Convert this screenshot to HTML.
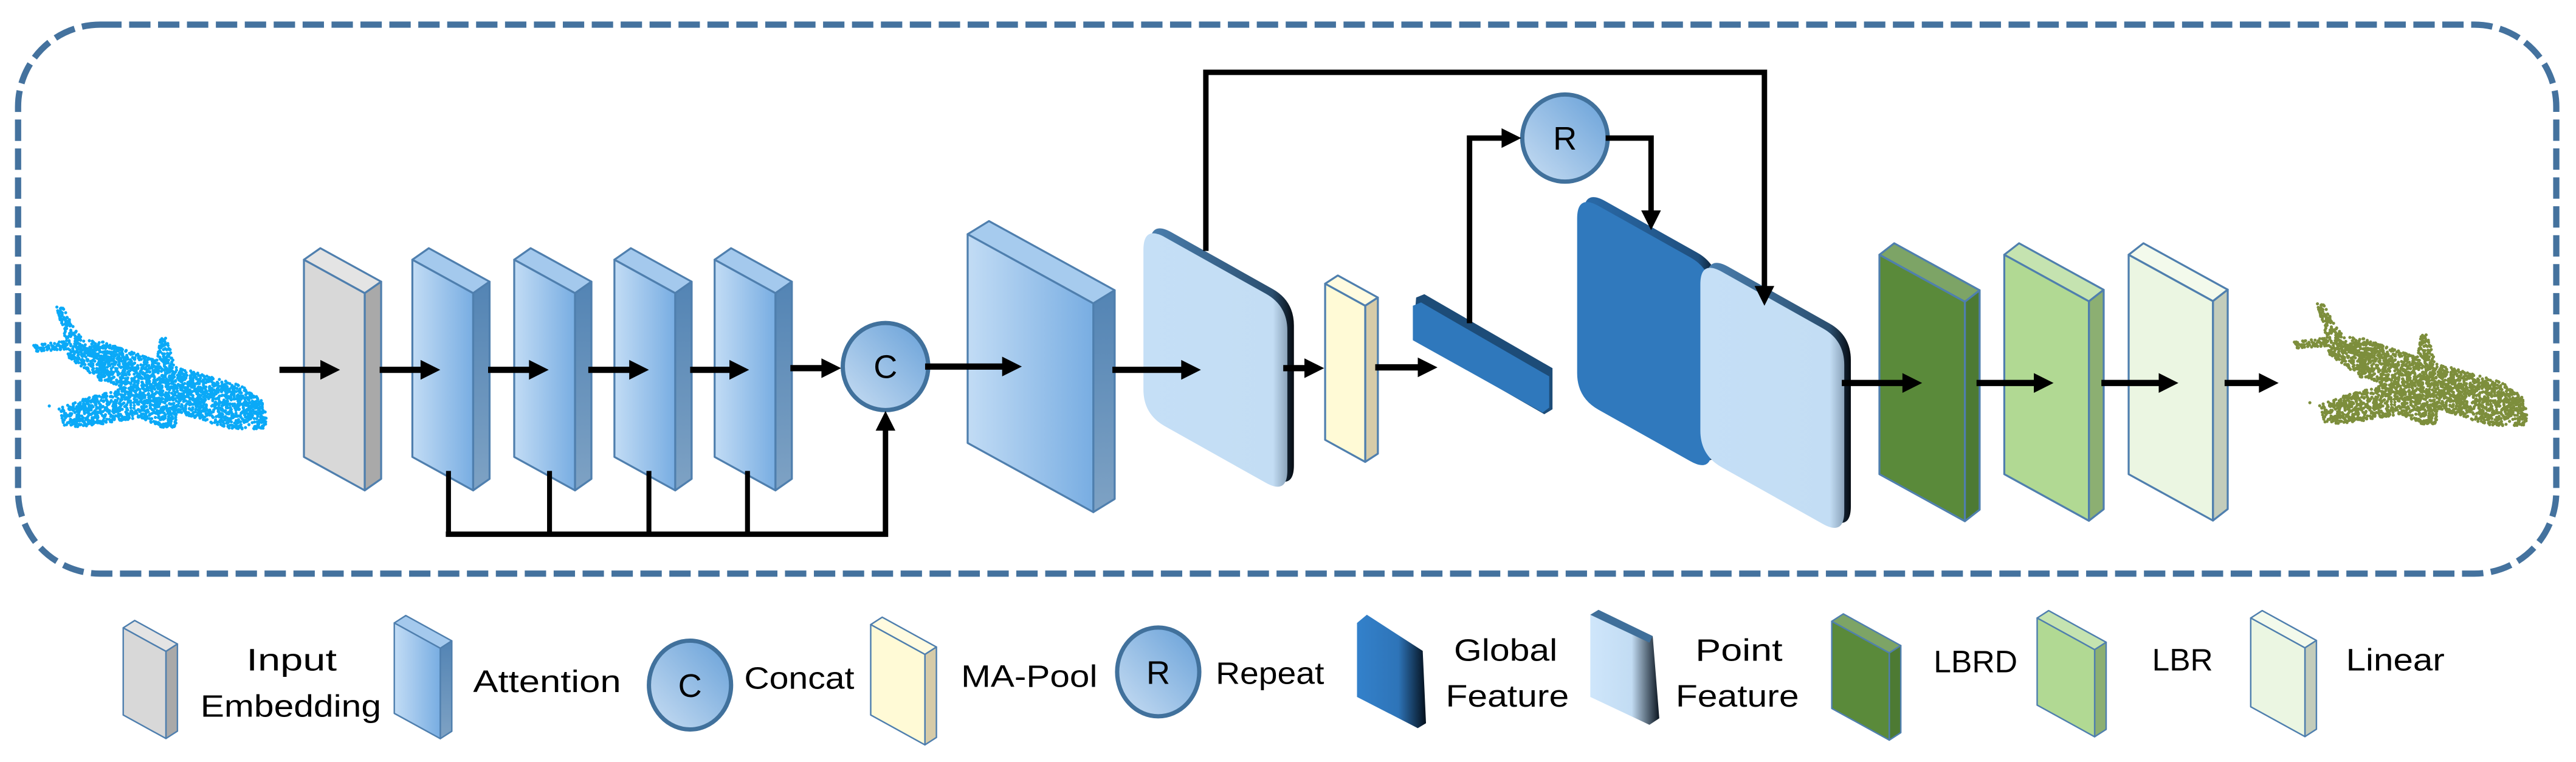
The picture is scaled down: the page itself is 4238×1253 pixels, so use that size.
<!DOCTYPE html>
<html><head><meta charset="utf-8"><style>
html,body{margin:0;padding:0;background:#fff;}
svg{display:block;}
text{font-family:"Liberation Sans",sans-serif;fill:#000;}
</style></head><body>
<svg id="s" xmlns="http://www.w3.org/2000/svg" width="4238" height="1253" viewBox="0 0 1568 463.6" preserveAspectRatio="none">
<defs>
<linearGradient id="gAtt" x1="0" y1="0" x2="1" y2="0"><stop offset="0" stop-color="#c2dcf5"/><stop offset="1" stop-color="#78ade2"/></linearGradient>
<linearGradient id="gAttS" x1="0" y1="0" x2="0" y2="1"><stop offset="0" stop-color="#5384b4"/><stop offset="1" stop-color="#7ea2c4"/></linearGradient>
<linearGradient id="gCirc" x1="0" y1="1" x2="1" y2="0"><stop offset="0" stop-color="#c9def3"/><stop offset="1" stop-color="#67a0d8"/></linearGradient>
<linearGradient id="gPFb" x1="0" y1="0" x2="1" y2="0"><stop offset="0" stop-color="#4a7eae"/><stop offset="0.85" stop-color="#2b4f70"/><stop offset="1" stop-color="#050a10"/></linearGradient>
<linearGradient id="gPF" x1="0" y1="0" x2="1" y2="0"><stop offset="0" stop-color="#c5dff6"/><stop offset="0.9" stop-color="#c3ddf4"/><stop offset="1" stop-color="#8aa3ba"/></linearGradient>
<linearGradient id="gGFb" x1="0" y1="0" x2="1" y2="0"><stop offset="0" stop-color="#2a6aa8"/><stop offset="0.85" stop-color="#1f4f7e"/><stop offset="1" stop-color="#06121e"/></linearGradient>
<linearGradient id="gLGF" x1="0" y1="0" x2="1" y2="0"><stop offset="0" stop-color="#3381cb"/><stop offset="0.6" stop-color="#2e74b8"/><stop offset="1" stop-color="#04101c"/></linearGradient>
<linearGradient id="gLPF" x1="0" y1="0" x2="1" y2="0"><stop offset="0" stop-color="#cfe6fb"/><stop offset="0.6" stop-color="#c2dcf3"/><stop offset="1" stop-color="#0a1520"/></linearGradient>
</defs>
<rect x="11" y="15" width="1545" height="334" rx="50" ry="50" fill="none" stroke="#44729e" stroke-width="3.8" stroke-dasharray="13 4.6"/>
<g id="g"></g>
<text x="539" y="230" font-size="20" text-anchor="middle">C</text>
<text x="952.6" y="91" font-size="20" text-anchor="middle">R</text>
<text x="150" y="408" font-size="19" textLength="55" lengthAdjust="spacingAndGlyphs">Input</text>
<text x="122" y="436" font-size="19" textLength="110" lengthAdjust="spacingAndGlyphs">Embedding</text>
<text x="288" y="421" font-size="19" textLength="90" lengthAdjust="spacingAndGlyphs">Attention</text>
<text x="420" y="424" font-size="20" text-anchor="middle">C</text>
<text x="453" y="419" font-size="19" textLength="67" lengthAdjust="spacingAndGlyphs">Concat</text>
<text x="585" y="418" font-size="19" textLength="83" lengthAdjust="spacingAndGlyphs">MA-Pool</text>
<text x="705" y="416" font-size="20" text-anchor="middle">R</text>
<text x="740" y="416" font-size="19" textLength="66" lengthAdjust="spacingAndGlyphs">Repeat</text>
<text x="885" y="402" font-size="19" textLength="63" lengthAdjust="spacingAndGlyphs">Global</text>
<text x="880" y="430" font-size="19" textLength="75" lengthAdjust="spacingAndGlyphs">Feature</text>
<text x="1032" y="402" font-size="19" textLength="53" lengthAdjust="spacingAndGlyphs">Point</text>
<text x="1020" y="430" font-size="19" textLength="75" lengthAdjust="spacingAndGlyphs">Feature</text>
<text x="1177" y="409" font-size="19" textLength="51" lengthAdjust="spacingAndGlyphs">LBRD</text>
<text x="1310" y="408" font-size="19" textLength="37" lengthAdjust="spacingAndGlyphs">LBR</text>
<text x="1428" y="408" font-size="19" textLength="60" lengthAdjust="spacingAndGlyphs">Linear</text>
</svg>
<script>
var NS="http://www.w3.org/2000/svg",G=document.getElementById("g");
function el(t,a,p){var e=document.createElementNS(NS,t);for(var k in a)e.setAttribute(k,a[k]);(p||G).appendChild(e);return e;}
function poly(pts,a){a.points=pts.map(function(p){return p[0]+","+p[1];}).join(" ");return el("polygon",a);}
var OL="#4f7fae";
function block(x,W,yTL,H,d,dz,cf,ct,cs,sw){
  var s=0.55,TL=[x,yTL],TR=[x+W,yTL+s*W],BR=[x+W,yTL+H+s*W],BL=[x,yTL+H];
  sw=sw||1.2;
  poly([TL,TR,[TR[0]+d,TR[1]-dz],[TL[0]+d,TL[1]-dz]],{fill:ct,stroke:OL,"stroke-width":sw,"stroke-linejoin":"round"});
  poly([TR,[TR[0]+d,TR[1]-dz],[BR[0]+d,BR[1]-dz],BR],{fill:cs,stroke:OL,"stroke-width":sw,"stroke-linejoin":"round"});
  poly([TL,TR,BR,BL],{fill:cf,stroke:OL,"stroke-width":sw,"stroke-linejoin":"round"});
}
function rshape(L,R,tL,bL,s,r,a,dx,dy){
  dx=dx||0;dy=dy||0;
  var P=[[L,tL],[R,tL+s*(R-L)],[R,bL+s*(R-L)],[L,bL]].map(function(p){return [p[0]+dx,p[1]+dy];});
  var d="";
  for(var i=0;i<4;i++){
    var p=P[i],pr=P[(i+3)%4],nx=P[(i+1)%4];
    var u1=[pr[0]-p[0],pr[1]-p[1]],l1=Math.hypot(u1[0],u1[1]);
    var u2=[nx[0]-p[0],nx[1]-p[1]],l2=Math.hypot(u2[0],u2[1]);
    var a1=[p[0]+u1[0]/l1*r,p[1]+u1[1]/l1*r],a2=[p[0]+u2[0]/l2*r,p[1]+u2[1]/l2*r];
    d+=(i==0?"M":"L")+a1[0]+","+a1[1]+" Q"+p[0]+","+p[1]+" "+a2[0]+","+a2[1]+" ";
  }
  a.d=d+"Z";return el("path",a);
}
function line(pts,w){el("polyline",{points:pts.map(function(p){return p.join(",");}).join(" "),fill:"none",stroke:"#000","stroke-width":w||3.3,"stroke-linejoin":"miter","stroke-linecap":"square"});}
function harrow(x1,x2,y){line([[x1,y],[x2-10,y]],3.8);poly([[x2-12,y-6],[x2,y],[x2-12,y+6]],{fill:"#000"});}

var seed=7;function rnd(){seed=(seed*16807)%2147483647;return seed/2147483647;}
function inside(p,P){var c=false;for(var i=0,j=P.length-1;i<P.length;j=i++){var a=P[i],b=P[j];if(((a[1]>p[1])!=(b[1]>p[1]))&&(p[0]<(b[0]-a[0])*(p[1]-a[1])/(b[1]-a[1])+a[0]))c=!c;}return c;}
var polys=[
 [[20,210],[48,206],[50,212],[22,214]],
 [[40,208],[60,207],[100,221],[148,235],[160,244],[163,256],[160,261],[140,261],[100,248],[60,231],[42,218]],
 [[34,186],[38,186],[44,198],[53,210],[42,214],[38,200]],
 [[98,205],[102,206],[107,226],[94,226]],
 [[35,248],[50,243],[80,235],[98,235],[108,250],[107,260],[98,260],[85,254],[50,260],[38,259]]
];
var pts=[];
for(var n=0;n<9000;n++){var p=[20+rnd()*145,185+rnd()*78];for(var k=0;k<polys.length;k++){if(inside(p,polys[k])){if(rnd()<0.85)pts.push(p);break;}}}
pts.push([30,247]);
var g1=el("g",{fill:"#0aa9f7"}),g2=el("g",{fill:"#7d8e3c",transform:"translate(1376,-2)"});
pts.forEach(function(p){el("circle",{cx:p[0],cy:p[1],r:0.95},g1);el("circle",{cx:p[0],cy:p[1],r:0.95},g2);});

block(185,37,158,120,10,7,"#d8d8d8","#e4e4e4","#a9a9a9");
[251,313,374,435].forEach(function(x){block(x,37,158,120,10,7,"url(#gAtt)","#a4c9ed","url(#gAttS)");});
block(589,76.5,142.5,127,13,8,"url(#gAtt)","#a6cbee","url(#gAttS)");
block(806.6,24.4,172.6,95,7.7,5,"#fffad6","#fffbe0","#d6cba8");
block(1144,52,155,133.5,9,7,"#5a8a3a","#7da466","#4d7a33");
block(1220,51.5,155,133.5,9,7,"#b1d993","#c5e3b0","#8caf72");
block(1295.7,51.3,155,133.5,9,7,"#ebf6e2","#f3faec","#c3ccbb");

rshape(696,783.6,137,252,0.56,15,{fill:"url(#gPFb)"},4,-3);
rshape(696,783.6,137,252,0.56,15,{fill:"url(#gPF)"});
poly([[862,181],[867,179],[945,224],[945,249],[940,252],[860,206]],{fill:"#1d4c78"});
poly([[860,186],[865,184],[943,229],[943,248],[939,251],[860,207]],{fill:"#2f78bc"});
rshape(960,1042,118,242,0.56,15,{fill:"url(#gGFb)"},4,-3);
rshape(960,1042,118,242,0.56,15,{fill:"#3079bd"});
rshape(1035,1122.6,158,277,0.56,15,{fill:"url(#gPFb)"},4,-3);
rshape(1035,1122.6,158,277,0.56,15,{fill:"url(#gPF)"});

el("ellipse",{cx:539,cy:223,rx:26,ry:26.5,fill:"url(#gCirc)",stroke:"#41719c","stroke-width":2.6});
el("ellipse",{cx:952.6,cy:84,rx:26,ry:26.5,fill:"url(#gCirc)",stroke:"#41719c","stroke-width":2.6});

[[172,207,225],[233,268,225],[299,334,225],[360,395,225],[422,456,225],[483,512,224],[565,622,223],[679,731,225],[783,806,224],[839,875,223.5],[1123,1170,233],[1205,1250,233],[1281,1326,233],[1356,1387,233]].forEach(function(a){harrow(a[0],a[1],a[2]);});
[273,334.5,395,455].forEach(function(x){line([[x,288],[x,325]],3);});
line([[273,325],[539,325],[539,260]],3.3);
poly([[533,262],[539,250],[545,262]],{fill:"#000"});
line([[894.5,195],[894.5,84],[916,84]],3.3);
poly([[914,78],[926,84],[914,90]],{fill:"#000"});
line([[979,84],[1005,84],[1005,130]],3.3);
poly([[999,128],[1005,140],[1011,128]],{fill:"#000"});
line([[734,151],[734,44],[1074,44],[1074,176]],3.3);
poly([[1068,174],[1074,186],[1080,174]],{fill:"#000"});

block(75,26,382,53,7,4.5,"#d8d8d8","#e4e4e4","#a9a9a9",0.9);
block(240,28,379,55,7,4.5,"url(#gAtt)","#a4c9ed","url(#gAttS)",0.9);
el("ellipse",{cx:420,cy:416.8,rx:25,ry:27,fill:"url(#gCirc)",stroke:"#41719c","stroke-width":2.6});
block(530,33,380,55,7,4.5,"#fffad6","#fffbe0","#d6cba8",0.9);
el("ellipse",{cx:705,cy:408.8,rx:25,ry:27,fill:"url(#gCirc)",stroke:"#41719c","stroke-width":2.6});
poly([[826,379],[832,374],[866,396],[868,440],[863,443],[826,424]],{fill:"url(#gLGF)"});
poly([[968,374],[973,371],[1006,387],[1010,437],[1004,441],[968,424]],{fill:"url(#gLPF)"});
poly([[968,374],[973,371],[1006,387],[1004,391]],{fill:"#3f6f9a"});
block(1115,35,378,53,7,4.5,"#5a8a3a","#7da466","#4d7a33",0.9);
block(1240,35,376,53,7,4.5,"#b1d993","#c5e3b0","#8caf72",0.9);
block(1370,33,376,54,7,4.5,"#ebf6e2","#f3faec","#c3ccbb",0.9);
var s=document.getElementById("s");Array.prototype.slice.call(s.querySelectorAll("text")).forEach(function(t){s.appendChild(t);});
</script>
</body></html>
